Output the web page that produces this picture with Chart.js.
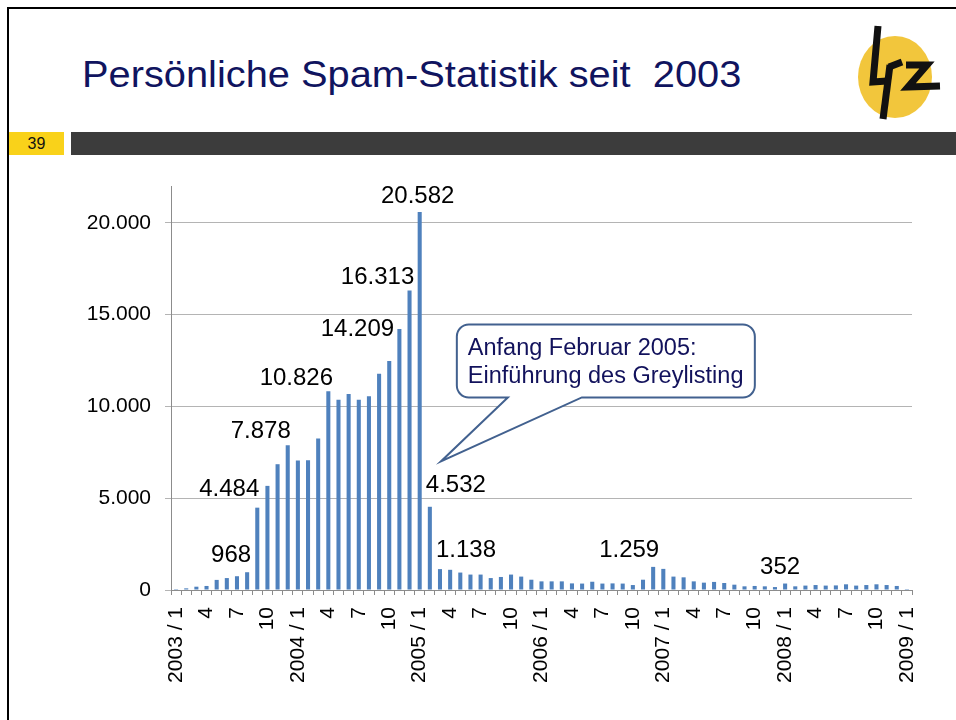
<!DOCTYPE html>
<html>
<head>
<meta charset="utf-8">
<script src="https://cdn.jsdelivr.net/npm/chart.js@4"></script>
<style>
  body{margin:0;background:#fff;}
  #page{position:relative;width:956px;height:720px;overflow:hidden;font-family:"Liberation Sans",Arial,sans-serif;}
  .frame-top{position:absolute;left:7px;top:7px;right:0;height:2px;background:#000;}
  .frame-left{position:absolute;left:7px;top:7px;bottom:0;width:2px;background:#000;}
  #title{position:absolute;left:82px;top:57px;font-size:36px;line-height:36px;color:#10145f;white-space:pre;transform-origin:left center;}
  #pno{position:absolute;left:9px;top:132px;width:55px;height:23px;background:#f9d21a;font-size:16px;line-height:23px;text-align:center;color:#111;}
  #band{position:absolute;left:71px;top:132px;right:0;height:23px;background:#3c3c3c;}
  #logo{position:absolute;left:840px;top:15px;}
  #wrap{position:absolute;left:0;top:0;width:956px;height:720px;}
</style>
</head>
<body>
<div id="page">
  <div class="frame-top"></div>
  <div class="frame-left"></div>
  <div id="title">Persönliche Spam-Statistik seit  2003</div>
  <svg id="logo" width="116" height="110" viewBox="0 0 116 110">
    <ellipse cx="55" cy="62" rx="37" ry="41" fill="#f2c63c"/>
    <g stroke="#111" stroke-width="7" fill="none" stroke-linecap="butt">
      <path d="M38 11 L33 67 L47 66"/>
      <path d="M50 50 L43 104"/>
      <path d="M49 52 L62 47"/>
      <path d="M66 50 L87 50 L68 72 L100 71"/>
    </g>
  </svg>
  <div id="pno">39</div>
  <div id="band"></div>
  <div id="wrap"><canvas id="spam"></canvas></div>
</div>
<script>
// months 2003/1 .. 2009/1
const months = [];
for (let y = 2003; y <= 2009; y++) {
  for (let m = 1; m <= 12; m++) {
    if (y === 2009 && m > 1) break;
    months.push(m === 1 ? y + ' / 1' : String(m));
  }
}

// spam mails per month
const spam = [
  50, 90, 180, 220, 550, 650, 750, 968, 4484, 5670, 6850, 7878,
  7050, 7060, 8250, 10826, 10360, 10670, 10360, 10550, 11780, 12470, 14209, 16313,
  20582, 4532, 1138, 1100, 950, 840, 840, 650, 710, 840, 730, 560,
  470, 470, 470, 360, 350, 450, 350, 360, 350, 270, 560, 1259,
  1150, 730, 690, 470, 400, 440, 380, 290, 200, 220, 200, 160,
  352, 200, 240, 270, 240, 250, 310, 240, 270, 310, 270, 220,
  50
];

const yTicks = [0, 5000, 10000, 15000, 20000];
const yMax = 22000;

// bars that carry a value label
const labelIdx = [7, 8, 11, 15, 22, 23, 24, 25, 26, 47, 60];
// label placement relative to the bar top (px)
const labelDx  = [-16, -28, -27, -32, -42, -32, -2, 26, 26, -24, -5];
const labelGap = [10, 12, 7, 6, -7, 6, 9, 15, 12, 10, 10];

const noteLines = ['Anfang Februar 2005:', 'Einführung des Greylisting'];

const FONT = '"Liberation Sans", Arial, sans-serif';
const fmt = v => String(v).replace(/\B(?=(\d{3})+(?!\d))/g, '.');

// stretch title to the slide width
const t = document.getElementById('title');
t.style.transform = 'scaleX(' + (659 / t.offsetWidth) + ')';

const barLabels = {
  id: 'barLabels',
  afterDatasetsDraw(chart) {
    const {ctx} = chart;
    const meta = chart.getDatasetMeta(0);
    ctx.save();
    ctx.font = '24px ' + FONT;
    ctx.fillStyle = '#000';
    ctx.textAlign = 'center';
    ctx.textBaseline = 'alphabetic';
    labelIdx.forEach((i, k) => {
      const b = meta.data[i];
      ctx.fillText(fmt(spam[i]), b.x + labelDx[k], b.y - labelGap[k]);
    });
    ctx.restore();
  }
};

const callout = {
  id: 'callout',
  afterDatasetsDraw(chart) {
    const {ctx, scales:{x, y}} = chart;
    const tipX = x.getPixelForValue(25) + 11;
    const tipY = y.getPixelForValue(7000);
    const L = tipX + 16, T = tipY - 137, R = L + 298, B = T + 73, r = 12;
    const t1 = L + 51, t2 = L + 125;
    ctx.save();
    ctx.beginPath();
    ctx.moveTo(L + r, T);
    ctx.lineTo(R - r, T);
    ctx.arcTo(R, T, R, T + r, r);
    ctx.lineTo(R, B - r);
    ctx.arcTo(R, B, R - r, B, r);
    ctx.lineTo(t2, B);
    ctx.lineTo(tipX, tipY);
    ctx.lineTo(t1, B);
    ctx.lineTo(L + r, B);
    ctx.arcTo(L, B, L, B - r, r);
    ctx.lineTo(L, T + r);
    ctx.arcTo(L, T, L + r, T, r);
    ctx.closePath();
    ctx.fillStyle = '#fff';
    ctx.fill();
    ctx.lineWidth = 2;
    ctx.strokeStyle = '#42618f';
    ctx.stroke();
    ctx.font = '23.5px ' + FONT;
    ctx.fillStyle = '#12125c';
    ctx.textAlign = 'left';
    ctx.fillText(noteLines[0], L + 11, T + 31);
    ctx.fillText(noteLines[1], L + 11, T + 59);
    ctx.restore();
  }
};

new Chart(document.getElementById('spam').getContext('2d'), {
  type: 'bar',
  data: {
    labels: months,
    datasets: [{
      data: spam,
      backgroundColor: '#4f81bd',
      barPercentage: 0.4,
      categoryPercentage: 1.0
    }]
  },
  options: {
    responsive: true,
    maintainAspectRatio: false,
    animation: false,
    layout: {padding: {top: 186, right: 44, left: 0, bottom: 0}},
    plugins: {legend: {display: false}, tooltip: {enabled: false}},
    scales: {
      x: {
        grid: {display: true, drawOnChartArea: false, drawTicks: true, tickLength: 5, offset: true, color: '#8c8c8c'},
        border: {display: true, color: '#8c8c8c'},
        ticks: {
          autoSkip: false, maxRotation: 90, minRotation: 90, padding: 12,
          color: '#000', font: {family: FONT, size: 21},
          callback: (v, i) => i % 3 === 0 ? months[i] : ''
        },
        afterFit: s => { s.height = 130; }
      },
      y: {
        min: 0, max: yMax,
        grid: {color: '#b4b4b4', tickLength: 6},
        border: {display: true, color: '#8c8c8c'},
        ticks: {padding: 14, color: '#000', font: {family: FONT, size: 21}, callback: v => fmt(v)},
        afterBuildTicks: s => { s.ticks = yTicks.map(v => ({value: v})); },
        afterFit: s => { s.width = 171; }
      }
    }
  },
  plugins: [barLabels, callout]
});
</script>
</body>
</html>
